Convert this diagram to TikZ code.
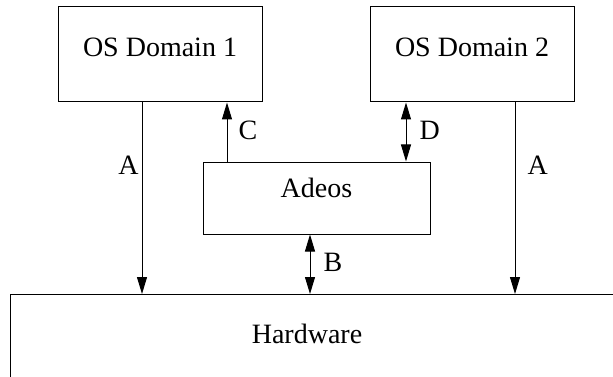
\documentclass[tikz,border=0pt]{standalone}
\usepackage{fontspec}
\setmainfont{Liberation Serif}
\usetikzlibrary{arrows.meta}
\begin{document}
\begin{tikzpicture}[x=1pt,y=-1pt,line width=1pt,
  every node/.style={font=\fontsize{28}{32}\selectfont},
  box/.style={draw,rectangle,inner sep=0pt},
  lbl/.style={inner sep=0pt},
  arr/.style={-{Triangle[length=17pt,width=10pt]}},
  darr/.style={{Triangle[length=17pt,width=10pt]}-{Triangle[length=17pt,width=10pt]}}]
\clip (0,0) rectangle (613,377);
\node[box,minimum width=204pt,minimum height=95pt,text depth=14pt] (os1) at (160,54.5) {OS Domain 1};
\node[box,minimum width=204pt,minimum height=95pt,text depth=14pt] (os2) at (472,54.5) {OS Domain 2};
\node[box,minimum width=227pt,minimum height=72pt,text depth=20pt] (adeos) at (316.5,198) {Adeos};
\node[box,anchor=north west,minimum width=660pt,minimum height=120pt] (hw) at (10,294) {};
\node[lbl] (hwtext) at (307,334) {Hardware};
\draw[arr] (os1.south -| 142,0) -- node[lbl,pos=0.33,left=3pt] (la) {A} (hw.north -| 142,0);
\draw[arr] (os2.south -| 515,0) -- node[lbl,pos=0.33,right=12pt] (la2) {A} (hw.north -| 515,0);
\draw[arr] (adeos.north -| 227,0) -- node[lbl,pos=0.53,right=11pt] (lc) {C} (os1.south -| 227,0);
\draw[darr] (os2.south -| 406,0) -- node[lbl,pos=0.47,right=13pt] (ld) {D} (adeos.north -| 406,0);
\draw[darr] (adeos.south -| 310,0) -- node[lbl,pos=0.47,right=13pt] (lb) {B} (hw.north -| 310,0);
\end{tikzpicture}
\end{document}
